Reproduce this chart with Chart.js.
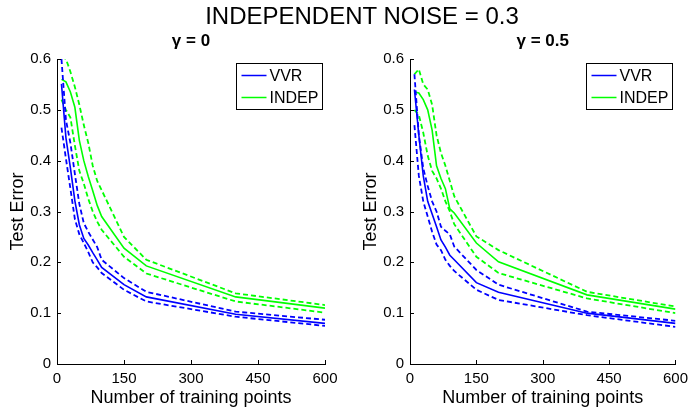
<!DOCTYPE html>
<html>
<head>
<meta charset="utf-8">
<script src="https://cdn.jsdelivr.net/npm/chart.js@4"></script>
<style>
  body { margin: 0; background: #fff; width: 694px; height: 411px; position: relative; overflow: hidden; }
  #suptitle { position: absolute; left: 0; top: 2px; width: 724px; text-align: center;
              font: 24px "Liberation Sans", Arial, sans-serif; color: #000; z-index: 2; }
  canvas { position: absolute; top: 0; }
  #c1 { left: 0; }
  #c2 { left: 353px; }
</style>
</head>
<body>
<div id="suptitle">INDEPENDENT NOISE = 0.3</div>
<canvas id="c1" width="347" height="411"></canvas>
<canvas id="c2" width="341" height="411"></canvas>
<script>
// number of training points (shared by every curve)
const xPts = [10, 20, 30, 40, 50, 60, 70, 80, 90, 100, 150, 200, 400, 600];

// gamma = 0
const vvr0     = [0.551, 0.445, 0.386, 0.321, 0.274, 0.247, 0.234, 0.219, 0.205, 0.190, 0.156, 0.132, 0.098, 0.080];
const vvr0Hi   = [0.600, 0.480, 0.435, 0.374, 0.315, 0.277, 0.260, 0.245, 0.230, 0.205, 0.169, 0.142, 0.103, 0.087];
const vvr0Lo   = [0.465, 0.404, 0.345, 0.285, 0.255, 0.238, 0.220, 0.200, 0.190, 0.179, 0.146, 0.123, 0.093, 0.075];
const indep0   = [0.560, 0.555, 0.535, 0.505, 0.440, 0.400, 0.369, 0.341, 0.312, 0.290, 0.228, 0.193, 0.132, 0.110];
const indep0Hi = [0.605, 0.600, 0.575, 0.545, 0.510, 0.470, 0.435, 0.390, 0.360, 0.342, 0.250, 0.205, 0.139, 0.116];
const indep0Lo = [0.520, 0.500, 0.485, 0.430, 0.380, 0.355, 0.325, 0.300, 0.280, 0.264, 0.211, 0.178, 0.123, 0.101];

// gamma = 0.5
const vvr5     = [0.540, 0.450, 0.370, 0.320, 0.295, 0.270, 0.244, 0.230, 0.214, 0.205, 0.160, 0.141, 0.100, 0.080];
const vvr5Hi   = [0.570, 0.450, 0.385, 0.350, 0.320, 0.300, 0.270, 0.262, 0.255, 0.231, 0.185, 0.156, 0.103, 0.085];
const vvr5Lo   = [0.470, 0.370, 0.320, 0.290, 0.260, 0.235, 0.224, 0.205, 0.193, 0.183, 0.146, 0.126, 0.096, 0.073];
const indep5   = [0.535, 0.533, 0.520, 0.500, 0.460, 0.390, 0.365, 0.345, 0.305, 0.297, 0.238, 0.201, 0.136, 0.108];
const indep5Hi = [0.570, 0.580, 0.550, 0.540, 0.510, 0.450, 0.415, 0.390, 0.360, 0.330, 0.251, 0.224, 0.142, 0.113];
const indep5Lo = [0.500, 0.490, 0.455, 0.410, 0.380, 0.365, 0.345, 0.320, 0.300, 0.275, 0.211, 0.179, 0.129, 0.100];

const xTicks = [0, 150, 300, 450, 600];
const yTicks = [0, 0.1, 0.2, 0.3, 0.4, 0.5, 0.6];
const legendNames = ['VVR', 'INDEP'];

const BLUE = '#0000ff';
const GREEN = '#00ff00';
const FONT = '"Liberation Sans", Arial, sans-serif';

function pts(ys) {
    return ys.map((y, i) => ({x: xPts[i], y: y}));
}

function line(ys, color, dashed) {
    return {
        data: pts(ys),
        borderColor: color,
        borderWidth: dashed ? 1.8 : 1.6,
        borderDash: dashed ? [5, 3] : [],
        pointRadius: 0,
        tension: 0,
        fill: false
    };
}

// matlab style: ticks pointing inward + boxed legend in the upper right
const matlabBits = {
    id: 'matlabBits',
    afterDraw(chart) {
        const ctx = chart.ctx;
        const xs = chart.scales.x, ys = chart.scales.y;
        const ca = chart.chartArea;
        ctx.save();
        ctx.strokeStyle = '#000';
        ctx.lineWidth = 1;
        xTicks.forEach(v => {
            const p = Math.round(xs.getPixelForValue(v)) + 0.5;
            ctx.beginPath(); ctx.moveTo(p, ca.bottom); ctx.lineTo(p, ca.bottom - 4); ctx.stroke();
        });
        yTicks.forEach(v => {
            const p = Math.round(ys.getPixelForValue(v)) + 0.5;
            ctx.beginPath(); ctx.moveTo(ca.left, p); ctx.lineTo(ca.left + 4, p); ctx.stroke();
        });

        // legend
        const w = 86, h = 46;
        const bx = Math.round(ca.right - 3 - w) + 0.5, by = Math.round(ca.top + 4) + 0.5;
        ctx.fillStyle = '#fff';
        ctx.fillRect(bx, by, w, h);
        ctx.strokeStyle = '#000';
        ctx.strokeRect(bx, by, w, h);
        const cols = [BLUE, GREEN];
        ctx.font = '16px ' + FONT;
        ctx.textBaseline = 'middle';
        legendNames.forEach((name, i) => {
            const cy = by + 12 + i * 22;
            ctx.strokeStyle = cols[i];
            ctx.lineWidth = 1.5;
            ctx.beginPath(); ctx.moveTo(bx + 5, cy); ctx.lineTo(bx + 30, cy); ctx.stroke();
            ctx.fillStyle = '#000';
            ctx.fillText(name, bx + 33, cy + 1);
        });
        ctx.restore();
    }
};

function makeChart(id, title, sets, padRight) {
    return new Chart(document.getElementById(id), {
        type: 'line',
        data: {
            datasets: [
                line(sets[0], BLUE, false),
                line(sets[1], BLUE, true),
                line(sets[2], BLUE, true),
                line(sets[3], GREEN, false),
                line(sets[4], GREEN, true),
                line(sets[5], GREEN, true)
            ]
        },
        options: {
            responsive: false,
            animation: false,
            layout: { padding: { left: 0, right: padRight, top: 0, bottom: 0 } },
            plugins: {
                legend: { display: false },
                tooltip: { enabled: false },
                title: {
                    display: true,
                    text: title,
                    fullSize: false,
                    color: '#000',
                    font: { family: FONT, size: 17, weight: 'bold' },
                    padding: { top: 31, bottom: 7.6 }
                }
            },
            scales: {
                x: {
                    type: 'linear',
                    min: 0, max: 600,
                    afterBuildTicks: s => { s.ticks = xTicks.map(v => ({value: v})); },
                    afterFit: s => { s.height = 47; },
                    grid: { display: true, drawOnChartArea: false, drawTicks: false },
                    border: { display: true, color: '#000', width: 1 },
                    ticks: { color: '#000', font: { family: FONT, size: 15 }, padding: 6, maxRotation: 0 },
                    title: { display: true, text: 'Number of training points', color: '#000',
                             font: { family: FONT, size: 18 }, padding: { top: 0, bottom: 2 } }
                },
                y: {
                    min: 0, max: 0.6,
                    afterBuildTicks: s => { s.ticks = yTicks.map(v => ({value: v})); },
                    afterFit: s => { s.width = 57; },
                    grid: { display: true, drawOnChartArea: false, drawTicks: false },
                    border: { display: true, color: '#000', width: 1 },
                    ticks: { color: '#000', font: { family: FONT, size: 15 }, padding: 6,
                             callback: v => String(Math.round(v * 10) / 10) },
                    title: { display: true, text: 'Test Error', color: '#000',
                             font: { family: FONT, size: 18 }, padding: { top: 7, bottom: 2 } }
                }
            }
        },
        plugins: [matlabBits]
    });
}

makeChart('c1', 'γ = 0', [vvr0, vvr0Hi, vvr0Lo, indep0, indep0Hi, indep0Lo], 22);
makeChart('c2', 'γ = 0.5', [vvr5, vvr5Hi, vvr5Lo, indep5, indep5Hi, indep5Lo], 15);
</script>
</body>
</html>
